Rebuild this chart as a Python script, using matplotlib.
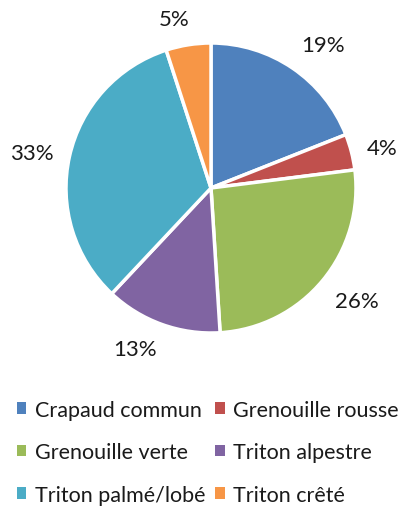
import matplotlib
matplotlib.use("Agg")
import matplotlib.pyplot as plt
import numpy as np
from matplotlib.patches import Patch

categories = ["Crapaud commun", "Grenouille rousse", "Grenouille verte",
              "Triton alpestre", "Triton palmé/lobé", "Triton crêté"]
values = [19, 4, 26, 13, 33, 5]
colors = ["#4F81BD", "#C0504D", "#9BBB59", "#8064A2", "#4BACC6", "#F79646"]

plt.rcParams['font.family'] = ['Lato', 'DejaVu Sans']

W, H = 411, 510
fig = plt.figure(figsize=(W/100, H/100), dpi=100)
cx, cy, r = 211, 189, 145
ax = fig.add_axes([(cx - r)/W, (H - cy - r)/H, 2*r/W, 2*r/H])
wedges, texts, autotexts = ax.pie(
    values, colors=colors, startangle=90, counterclock=False,
    autopct='%d%%', pctdistance=1.11, radius=1,
    wedgeprops=dict(edgecolor='white', linewidth=2.5),
    textprops=dict(fontsize=16, color='#1a1a1a'))
# Excel-like "outside end" label alignment
for w, t in zip(wedges, autotexts):
    ang = np.deg2rad((w.theta1 + w.theta2) / 2)
    dx, dy = np.cos(ang), np.sin(ang)
    t.set_ha('left' if dx > 0.3 else ('right' if dx < -0.3 else 'center'))
    t.set_va('bottom' if dy > 0.3 else ('top' if dy < -0.3 else 'center'))
    if abs(dx) <= 0.3:
        x, y = t.get_position()
        t.set_position((x + 0.08 * np.sign(dx), y))
ax.set_xlim(-1, 1)
ax.set_ylim(-1, 1)
ax.set_aspect('equal')

handles = [Patch(facecolor=c, edgecolor='none') for c in colors]
order = [0, 2, 4, 1, 3, 5]
fig.legend([handles[i] for i in order], [categories[i] for i in order],
           ncol=2, loc='upper left',
           bbox_to_anchor=(8/W, 1 - 392/H), frameon=False,
           fontsize=15.5, handlelength=0.45, handleheight=0.45,
           handletextpad=0.4, columnspacing=0.45, labelspacing=1.05,
           labelcolor='#1a1a1a', borderaxespad=0)

fig.savefig("out.png", dpi=100)
